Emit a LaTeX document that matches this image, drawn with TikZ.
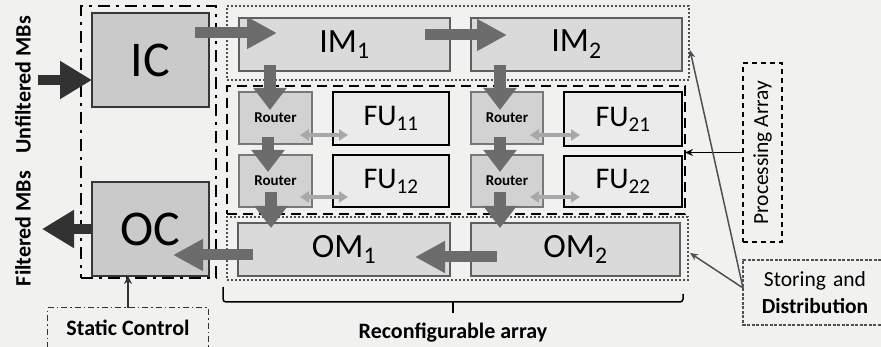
\documentclass[tikz,border=0pt]{standalone}
\usepackage{fontspec}
\setmainfont{Carlito}
\usetikzlibrary{arrows.meta,calc}
\definecolor{bgc}{RGB}{241,241,239}
\definecolor{boxA}{RGB}{202,202,202}
\definecolor{bordA}{RGB}{55,55,55}
\definecolor{boxB}{RGB}{218,218,218}
\definecolor{bordB}{RGB}{95,95,95}
\definecolor{boxR}{RGB}{210,210,210}
\definecolor{bordR}{RGB}{120,120,120}
\definecolor{boxF}{RGB}{235,235,235}
\definecolor{arrg}{RGB}{108,108,108}
\definecolor{arrd}{RGB}{50,50,50}
\definecolor{arrl}{RGB}{168,168,168}
\definecolor{frameg}{RGB}{80,80,80}
\begin{document}
\begin{tikzpicture}[x=1pt,y=-1pt]
\tikzset{
  bx/.style={rectangle, anchor=north west, inner sep=0pt, outer sep=0pt},
  ctrlbox/.style={bx, fill=boxA, draw=bordA, line width=2pt, font=\fontsize{50}{50}\selectfont},
  membox/.style={bx, fill=boxB, draw=bordB, line width=2.2pt, font=\fontsize{34}{34}\selectfont},
  rbox/.style={bx, fill=boxR, draw=bordR, line width=1.8pt, font=\bfseries\fontsize{15}{15}\selectfont},
  fubox/.style={bx, fill=boxF, draw=black, line width=2.8pt, font=\fontsize{30}{30}\selectfont},
  hbig/.style={draw=arrg, line width=11pt, -{Triangle[length=30pt,width=30pt]}},
  vbig/.style={draw=arrg, line width=12pt, -{Triangle[length=22pt,width=32pt]}},
  darkarrow/.style={draw=arrd, line width=10pt, -{Triangle[length=32pt,width=36pt]}},
  biarrow/.style={draw=arrl, line width=4pt, {Triangle[length=9pt,width=11pt]}-{Triangle[length=9pt,width=11pt]}},
  dotframe/.style={bx, draw=frameg, line width=1.8pt, dash pattern=on 2pt off 2pt},
  heavydash/.style={bx, draw=black, line width=2.6pt, dash pattern=on 10pt off 6pt},
  dashdot/.style={bx, draw=black, line width=1.8pt, dash pattern=on 12pt off 6pt on 3pt off 6pt},
  thindashdot/.style={draw=black!80, line width=1.2pt, dash pattern=on 6pt off 3pt on 1.5pt off 3pt},
  thindash/.style={bx, draw=black, line width=1.2pt, dash pattern=on 5pt off 4pt},
  lbl/.style={font=\bfseries\fontsize{22}{24}\selectfont, inner sep=0pt},
  plbl/.style={font=\fontsize{21.5}{27}\selectfont, inner sep=0pt},
  thinline/.style={draw=frameg, line width=1.5pt, -{Stealth[length=8pt,width=7pt]}},
}
\fill[bgc] (0,0) rectangle (881,347);
\useasboundingbox (0,0) rectangle (881,347);

% frames
\node[dashdot, minimum width=135pt, minimum height=272pt] (ctrl) at (81,6) {};
\node[dotframe, minimum width=462pt, minimum height=74pt] (stor1) at (227,6) {};
\node[dotframe, minimum width=461pt, minimum height=63pt] (stor2) at (227,217) {};
\node[heavydash, minimum width=458pt, minimum height=128pt] (proc) at (227,86) {};

% boxes
\node[ctrlbox, minimum width=117pt, minimum height=94pt] (IC) at (92,13) {IC};
\node[ctrlbox, minimum width=117pt, minimum height=94pt] (OC) at (92,182) {OC};
\node[membox, minimum width=211pt, minimum height=53pt] (IM1) at (239,18) {IM\textsubscript{1}};
\node[membox, minimum width=211pt, minimum height=53pt] (IM2) at (471,18) {IM\textsubscript{2}};
\node[membox, minimum width=212pt, minimum height=53pt] (OM1) at (238,223) {OM\textsubscript{1}};
\node[membox, minimum width=209pt, minimum height=53pt] (OM2) at (471,223) {OM\textsubscript{2}};
\node[rbox, minimum width=73pt, minimum height=52pt] (R11) at (239,92) {Router};
\node[rbox, minimum width=73pt, minimum height=52pt] (R12) at (239,155) {Router};
\node[rbox, minimum width=72pt, minimum height=52pt] (R21) at (471,92) {Router};
\node[rbox, minimum width=72pt, minimum height=52pt] (R22) at (471,155) {Router};
\node[fubox, minimum width=116pt, minimum height=53pt] (FU11) at (333,92) {FU\textsubscript{11}};
\node[fubox, minimum width=116pt, minimum height=52pt] (FU12) at (333,155) {FU\textsubscript{12}};
\node[fubox, minimum width=118pt, minimum height=54pt] (FU21) at (564,92) {FU\textsubscript{21}};
\node[fubox, minimum width=118pt, minimum height=51pt] (FU22) at (564,156) {FU\textsubscript{22}};

% side labels
\node[lbl, rotate=90] (unf) at (23,85) {Unfiltered MBs};
\node[lbl, rotate=90] (fil) at (23,228.5) {Filtered MBs};

% processing array label box
\node[thindash, minimum width=39pt, minimum height=179pt] (PA) at (743,63) {};
\node[plbl, rotate=90] (PAt) at (PA.center) {Processing Array};

% storing and distribution
\node[plbl, align=center, text width=130pt] (SD) at (815,293) {Storing and\\\textbf{Distribution}};
\draw[draw=frameg, line width=1.3pt, dash pattern=on 3pt off 1.5pt] (881,260) -| (743,325) -- (881,325);
\coordinate (sdl) at (743,288);

% static control
\node[lbl, minimum width=160pt, minimum height=40pt, inner sep=0pt] (SC) at (128,328) {Static Control};
\draw[thindashdot] (SC.south west) |- (SC.north east) -- (SC.south east);

% bracket
\draw[line width=1.5pt, rounded corners=3pt] (223,287) -- (223,302) -- (683,302) -- (683,294);
\draw[line width=1.5pt] (453,302) -- (453,313);
\node[lbl] (RA) at (453,333) {Reconfigurable array};

% big arrows
\draw[hbig] ($(IC.east)+(-14,-27)$) -- ($(IM1.west)+(38,-11.5)$);
\draw[hbig] ($(IM1.east)+(-25,-9.5)$) -- ($(IM2.west)+(36,-9.5)$);
\draw[vbig] ($(R11.north|-IM1.south)+(-5.5,-6)$) -- ($(R11.north)+(-5.5,18)$);
\draw[vbig] ($(R21.north|-IM2.south)+(-7,-6)$) -- ($(R21.north)+(-7,18)$);
\draw[vbig] ($(R11.south)+(-7.5,-7)$) -- ($(R12.north)+(-7.5,17)$);
\draw[vbig] ($(R21.south)+(-7,-7)$) -- ($(R22.north)+(-7,17)$);
\draw[vbig] ($(R12.south)+(-4.5,-15)$) -- ($(R12.south|-OM1.north)+(-4.5,5)$);
\draw[vbig] ($(R22.south)+(-7,-15)$) -- ($(R22.south|-OM2.north)+(-7,5)$);
\draw[hbig] ($(OM2.west)+(26,7.5)$) -- ($(OM1.east)+(-35,7.5)$);
\draw[hbig] ($(OM1.west)+(15,5.5)$) -- ($(OC.east)+(-36,26)$);

% bidirectional router-FU arrows
\draw[biarrow] ($(R11.east)+(-12,17)$) -- ($(FU11.west)+(15,16.5)$);
\draw[biarrow] ($(R12.east)+(-12,16)$) -- ($(FU12.west)+(15,16)$);
\draw[biarrow] ($(R21.east)+(-13,17)$) -- ($(FU21.west)+(16,16)$);
\draw[biarrow] ($(R22.east)+(-13,16)$) -- ($(FU22.west)+(16,15.5)$);

% input / output
\coordinate (inpt) at (38,80);
\coordinate (outpt) at (42,229);
\draw[darkarrow] (inpt) -- ($(IC.west)+(0,20)$);
\draw[darkarrow] (OC.west) -- (outpt);

% control arrow
\draw[draw=arrd, line width=1.6pt, -{Stealth[length=8pt,width=8pt]}] (SC.north) -- (SC.north|-OC.south);

% annotation arrows
\draw[draw=black, line width=1.4pt, -{Stealth[length=8pt,width=7pt]}] (PA.west) -- (PA.west-|proc.east);
\draw[thinline] (sdl) -- ($(stor1.east)+(1,7)$);
\draw[thinline] (sdl) -- ($(stor2.east)+(2,4.5)$);
\end{tikzpicture}
\end{document}
